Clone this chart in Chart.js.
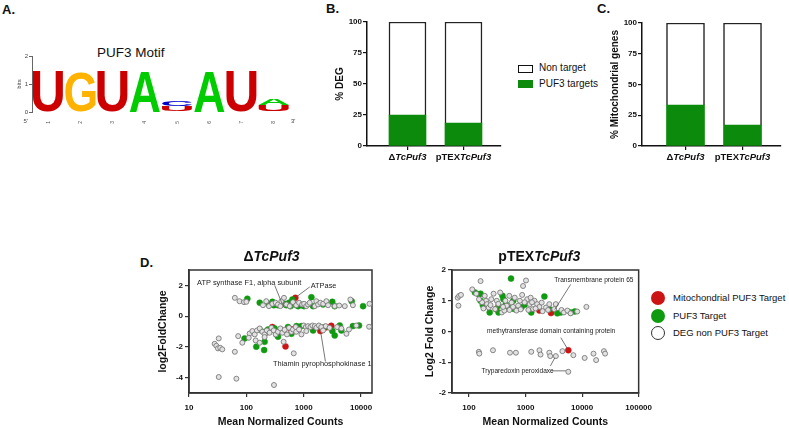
<!DOCTYPE html>
<html>
<head>
<meta charset="utf-8">
<script src="https://cdn.jsdelivr.net/npm/chart.js@4.4.0/dist/chart.umd.min.js"></script>
<style>
  body { margin: 0; width: 789px; height: 428px; background: #fff; position: relative; overflow: hidden;
         font-family: "Liberation Sans", Arial, sans-serif; color: #111; }
  canvas { position: absolute; }
  .panel { position: absolute; font-weight: bold; font-size: 13px; }
  .txt { position: absolute; white-space: nowrap; line-height: 1; }
  .box { position: absolute; box-sizing: border-box; }
  .dot { position: absolute; width: 14px; height: 14px; border-radius: 50%; box-sizing: border-box; }
</style>
</head>
<body>
<div class="panel" style="left:2px;top:2px">A.</div>
<div class="panel" style="left:326px;top:1px">B.</div>
<div class="panel" style="left:597px;top:1px">C.</div>
<div class="panel" style="left:140px;top:255px">D.</div>

<div class="txt" style="left:97px;top:46px;font-size:13.5px">PUF3 Motif</div>

<!-- legend for B / C -->
<div class="box" style="left:518px;top:65px;width:15px;height:8px;border:1px solid #111;background:#fff"></div>
<div class="txt" style="left:539px;top:63px;font-size:10px">Non target</div>
<div class="box" style="left:518px;top:80px;width:15px;height:8px;background:#0b8a0b"></div>
<div class="txt" style="left:539px;top:79px;font-size:10px">PUF3 targets</div>

<!-- legend for D -->
<div class="dot" style="left:651px;top:291px;background:#cc1414"></div>
<div class="txt" style="left:673px;top:293px;font-size:9.5px">Mitochondrial PUF3 Target</div>
<div class="dot" style="left:651px;top:309px;background:#0f9a0f"></div>
<div class="txt" style="left:673px;top:311px;font-size:9.5px">PUF3 Target</div>
<div class="dot" style="left:651px;top:326px;background:#fff;border:1.2px solid #333"></div>
<div class="txt" style="left:673px;top:328px;font-size:9.5px">DEG non PUF3 Target</div>

<canvas id="logo" width="300" height="90" style="left:0;top:40px"></canvas>
<canvas id="deg" width="180" height="160" style="left:325px;top:10px"></canvas>
<canvas id="mito" width="192" height="160" style="left:595px;top:10px"></canvas>
<canvas id="ko" width="240" height="183" style="left:150px;top:245px"></canvas>
<canvas id="oe" width="258" height="183" style="left:400px;top:245px"></canvas>

<script>
// ---- A: motif logo (bits per position) ----
var motifPositions = ['1', '2', '3', '4', '5', '6', '7', '8'];
var bitsU = [1.43, 0, 1.43, 0, 0.21, 0, 1.43, 0.24];
var bitsG = [0, 1.43, 0, 0, 0, 0, 0, 0];
var bitsC = [0, 0, 0, 0, 0.17, 0, 0, 0];
var bitsA = [0, 0, 0, 1.43, 0, 1.43, 0, 0.21];

// ---- B / C: stacked percentages ----
var strains = ['ΔTcPuf3', 'pTEXTcPuf3'];
var degTargets = [25, 18.5];
var degNonTargets = [75, 81.5];
var mitoTargets = [33.3, 17.1];
var mitoNonTargets = [66.7, 82.9];

// ---- D: MA plots, [mean normalized counts, log2 fold change] ----
var koOther = [
  [63,1.19],[76,0.97],[91,0.91],[100,0.93],[195,0.71],[222,0.97],[248,0.65],[284,0.8],[325,0.87],[356,0.76],
  [392,0.65],[408,0.97],[453,1.19],[499,0.76],[570,0.65],[650,0.91],[740,0.71],[830,0.87],[940,0.76],[1014,0.8],
  [1110,0.65],[1190,0.76],[1270,0.87],[1560,0.65],[1660,0.97],[1780,0.76],[1950,0.87],[2180,0.8],[2480,0.97],
  [2660,0.71],[3470,0.65],[4150,0.69],[5200,0.65],[6500,1.08],[7200,0.71],[14000,0.8],
  [114,-1.13],[127,-0.97],[140,-1.19],[153,-0.93],[171,-0.8],[190,-1.02],[208,-1.19],[228,-0.93],[254,-1.08],
  [273,-0.76],[300,-0.93],[325,-1.19],[356,-1.02],[392,-0.8],[424,-1.08],[465,-0.89],[510,-1.19],[555,-0.76],
  [610,-1.02],[650,-0.87],[725,-0.71],[740,-1.02],[830,-0.87],[912,-1.19],[1000,-0.61],[1090,-0.71],[1110,-0.97],
  [1190,-0.65],[1310,-0.71],[1420,-0.61],[1560,-0.65],[1660,-0.76],[1840,-0.61],[2020,-0.71],[2175,-0.93],
  [2420,-0.65],[2820,-0.76],[3820,-0.71],[4530,-0.8],[5550,-1.15],[6150,-0.87],[8250,-0.61],[13800,-0.69],
  [28,-1.8],[30,-1.93],[32,-2.1],[35,-2.06],[38,-2.16],[33,-1.45],[63,-2.32],[72,-1.3],[85,-1.73],[110,-1.41],
  [145,-1.58],[171,-1.73],[208,-1.36],[446,-1.67],[670,-2.42],[33,-3.96],[67,-4.07],[303,-4.48]
];
var koTarget = [
  [104,1.13],[171,0.87],[248,0.76],[284,0.93],[300,0.71],[356,0.71],[465,0.8],[499,0.71],[555,0.87],[585,0.65],
  [634,1.08],[697,0.76],[796,0.65],[912,0.71],[1014,0.65],[1361,1.23],[1456,0.65],[2175,0.76],[3150,0.93],
  [3470,0.65],[6850,0.97],[10840,0.65],
  [93,-1.45],[149,-1.99],[171,-0.89],[208,-1.02],[208,-1.67],[204,-2.21],[239,-0.87],[312,-0.8],[333,-1.19],
  [356,-1.34],[408,-1.02],[532,-0.71],[610,-1.15],[749,-0.65],[912,-0.65],[1456,-0.93],[2300,-0.71],[3159,-0.97],
  [3470,-1.26],[4248,-0.61],[4530,-0.93],[7213,-0.65],[9200,-0.61]
];
var koMito = [[413,0.76],[716,1.19],[224,-1.06],[481,-1.97],[594,-0.84],[284,-0.71],[1950,-0.97],[2480,-0.73],[3020,-0.63]];

var oeOther = [
  [63,1.1],[67,1.16],[72,1.19],[65,0.84],[114,1.37],[160,1.64],[134,1.23],[190,1.16],[200,1.0],[208,0.89],
  [223,0.78],[248,1.05],[272,1.23],[290,0.73],[310,1.0],[355,1.27],[380,0.62],[422,0.68],[465,0.84],[515,1.16],
  [566,0.94],[645,1.1],[690,0.68],[740,0.84],[792,1.0],[870,1.19],[903,1.48],[1018,1.66],[1070,1.05],[1180,0.89],
  [1230,1.1],[1350,0.73],[1440,1.0],[1600,0.89],[1760,0.8],[1930,0.94],[2300,0.78],[2630,0.89],[3210,0.73],
  [3430,0.89],[4310,0.7],[4770,0.62],[5500,0.68],[6260,0.59],[8200,0.65],[11900,0.8],
  [170,0.95],[240,0.86],[330,0.9],[400,0.8],[440,1.0],[520,0.7],[600,0.8],[820,0.72],[960,0.95],[1120,0.7],
  [1300,0.95],[1500,0.75],[2000,0.66],[2500,0.7],[150,1.05],[180,0.75],
  [149,-0.66],[152,-0.72],[265,-0.61],[530,-0.69],[675,-0.69],[1260,-0.66],[1760,-0.61],[1840,-0.75],[2630,-0.69],
  [2730,-0.8],[3430,-0.8],[4480,-0.64],[7000,-0.77],[11100,-0.86],[15900,-0.72],[17700,-0.93],[24300,-0.64],
  [25500,-0.72],[5700,-1.31]
];
var oeTarget = [
  [127,1.27],[149,1.21],[160,1.23],[160,1.0],[175,0.86],[232,0.62],[333,0.84],[333,0.62],[390,1.16],[406,1.05],
  [447,0.89],[497,0.78],[553,1.72],[606,1.0],[630,0.73],[845,0.78],[967,0.87],[1260,0.62],[2150,1.14],[2630,0.73],
  [3640,0.59],[4220,0.62],[6260,0.62],[7400,0.65]
];
var oeMito = [[300,0.73],[1760,0.68],[2820,0.6],[5700,-0.61]];

// gene labels: text, anchor (left edge, middle) and leader lines in data units
var koNotes = [
  { text: 'ATP synthase F1, alpha subunit', at: [13.8, 2.16], lines: [[312, 2.0, 419, 0.82]] },
  { text: 'ATPase', at: [1324, 1.95], lines: [[1274, 1.9, 745, 1.25]] },
  { text: 'Thiamin pyrophosphokinase 1', at: [292, -3.14], lines: [[2390, -2.95, 1990, -1.1]] }
];
var oeNotes = [
  { text: 'Transmembrane protein 65', at: [3210, 1.66], lines: [[6270, 1.53, 3300, 0.72]] },
  { text: 'methytransferase domain containing protein', at: [208, 0], lines: [[4200, -0.2, 5500, -0.56]] },
  { text: 'Tryparedoxin peroxidaxe', at: [166, -1.28], lines: [[2890, -1.28, 5150, -1.28], [2750, -1.12, 3300, -0.85]] }
];

var FAMILY = '"Liberation Sans", Arial, sans-serif';
Chart.defaults.font.family = FAMILY;
Chart.defaults.color = '#111';

var RED = '#cc1414', GREEN = '#0f9a0f', BARGREEN = '#0b8a0b';

// draws "plain + italic" bold text centred at cx
function drawRich(ctx, parts, cx, cy, size) {
  var widths = [], total = 0;
  parts.forEach(function(p) {
    ctx.font = (p[1] ? 'italic ' : '') + 'bold ' + size + 'px ' + FAMILY;
    var w = ctx.measureText(p[0]).width;
    widths.push(w);
    total += w;
  });
  var x = cx - total / 2;
  ctx.textAlign = 'left';
  ctx.textBaseline = 'middle';
  ctx.fillStyle = '#111';
  parts.forEach(function(p, i) {
    ctx.font = (p[1] ? 'italic ' : '') + 'bold ' + size + 'px ' + FAMILY;
    ctx.fillText(p[0], x, cy);
    x += widths[i];
  });
}

function richParts(name) {
  // split the strain name into the plain prefix and the italic gene name
  var k = name.indexOf('TcPuf3');
  return [[name.slice(0, k), false], ['TcPuf3', true]];
}

// ---------- A. logo ----------
var letterPlugin = {
  id: 'letters',
  afterDatasetsDraw: function(chart) {
    var ctx = chart.ctx;
    chart.data.datasets.forEach(function(ds, di) {
      chart.getDatasetMeta(di).data.forEach(function(bar) {
        var p = bar.getProps(['x', 'y', 'base', 'width'], true);
        var h = p.base - p.y;
        if (h < 0.5) return;
        ctx.save();
        ctx.font = 'bold 100px ' + FAMILY;
        var m = ctx.measureText(ds.label);
        var gw = m.actualBoundingBoxLeft + m.actualBoundingBoxRight;
        var gh = m.actualBoundingBoxAscent + m.actualBoundingBoxDescent;
        ctx.translate(p.x - p.width / 2, p.y);
        ctx.scale(p.width / gw, h / gh);
        ctx.fillStyle = ds.letterColor;
        ctx.textAlign = 'left';
        ctx.textBaseline = 'alphabetic';
        ctx.fillText(ds.label, m.actualBoundingBoxLeft, m.actualBoundingBoxAscent);
        ctx.restore();
      });
    });
    var a = chart.chartArea;
    ctx.save();
    ctx.font = '6px ' + FAMILY;
    ctx.fillStyle = '#444';
    ctx.textBaseline = 'middle';
    ctx.textAlign = 'right';
    ctx.fillText("5'", a.left - 4, a.bottom + 9);
    ctx.textAlign = 'left';
    ctx.fillText("3'", a.right + 1, a.bottom + 9);
    ctx.restore();
  }
};

function letterSet(letter, bits, color) {
  return { label: letter, data: bits, letterColor: color, backgroundColor: 'rgba(0,0,0,0)',
           barPercentage: 0.94, categoryPercentage: 1 };
}

new Chart(document.getElementById('logo'), {
  type: 'bar',
  data: {
    labels: motifPositions,
    datasets: [
      letterSet('U', bitsU, '#cc0000'),
      letterSet('G', bitsG, '#ffb300'),
      letterSet('C', bitsC, '#0000cc'),
      letterSet('A', bitsA, '#00cc00')
    ]
  },
  options: {
    responsive: false, animation: false,
    layout: { padding: { top: 16, right: 10, left: 0, bottom: 0 } },
    plugins: { legend: { display: false }, tooltip: { enabled: false } },
    scales: {
      x: {
        stacked: true,
        afterFit: function(s) { s.height = 18; },
        grid: { display: false }, border: { display: false },
        ticks: { font: { size: 5 }, color: '#555', minRotation: 90, maxRotation: 90, padding: 1 }
      },
      y: {
        stacked: true, min: 0, max: 2,
        afterFit: function(s) { s.width = 32; },
        ticks: { stepSize: 1, font: { size: 6 }, color: '#444', padding: 1 },
        grid: { drawOnChartArea: false, tickLength: 3, color: '#666' },
        border: { color: '#666', width: 1 },
        title: { display: true, text: 'bits', font: { size: 6 }, color: '#444', padding: { top: 16, bottom: 0 } }
      }
    }
  },
  plugins: [letterPlugin]
});

// ---------- B / C. stacked bars ----------
function barChart(id, pad, yW, xRange, targets, others, yTitle, titlePad, barW) {
  var labelPlugin = {
    id: 'strainLabels',
    afterDraw: function(chart) {
      var sx = chart.scales.x;
      strains.forEach(function(name, i) {
        drawRich(chart.ctx, richParts(name), sx.getPixelForValue(i + 1), chart.chartArea.bottom + 11, 9.5);
      });
    }
  };
  return new Chart(document.getElementById(id), {
    type: 'bar',
    data: {
      datasets: [
        { label: 'PUF3 targets', data: targets.map(function(v, i) { return { x: i + 1, y: v }; }),
          backgroundColor: BARGREEN, borderWidth: 0, barThickness: barW },
        { label: 'Non target', data: others.map(function(v, i) { return { x: i + 1, y: v }; }),
          backgroundColor: '#fff', borderColor: '#222', borderWidth: 1.5, barThickness: barW }
      ]
    },
    options: {
      responsive: false, animation: false,
      layout: { padding: pad },
      plugins: { legend: { display: false }, tooltip: { enabled: false } },
      scales: {
        x: {
          type: 'linear', stacked: true, offset: false, min: xRange[0], max: xRange[1],
          afterBuildTicks: function(s) { s.ticks = [{ value: 1 }, { value: 2 }]; },
          afterFit: function(s) { s.height = 24; },
          ticks: { callback: function() { return ''; } },
          grid: { drawOnChartArea: false, offset: false, tickLength: 4, color: '#111', lineWidth: 1.2 },
          border: { color: '#111', width: 1.5 }
        },
        y: {
          stacked: true, min: 0, max: 100,
          afterFit: function(s) { s.width = yW; },
          ticks: { stepSize: 25, font: { size: 8, weight: 'bold' }, color: '#111', padding: 1 },
          grid: { drawOnChartArea: false, tickLength: 4, color: '#111', lineWidth: 1.2 },
          border: { color: '#111', width: 1.5 },
          title: { display: true, text: yTitle, font: { size: 10, weight: 'bold' }, color: '#111',
                   padding: { top: titlePad, bottom: 0 } }
        }
      }
    },
    plugins: [labelPlugin]
  });
}

barChart('deg', { top: 12, right: 4, left: 0, bottom: 0 }, 42, [0.277, 2.67],
         degTargets, degNonTargets, '% DEG', 9, 37);
barChart('mito', { top: 13, right: 6, left: 0, bottom: 0 }, 47, [0.237, 2.675],
         mitoTargets, mitoNonTargets, '% Mitochondrial genes', 14, 38);

// ---------- D. MA plots ----------
function scatterChart(id, opt) {
  var extras = {
    id: 'extras',
    beforeDatasetsDraw: function(chart) {
      var a = chart.chartArea, ctx = chart.ctx;
      ctx.save();
      ctx.strokeStyle = '#333';
      ctx.lineWidth = 1.5;
      ctx.strokeRect(a.left, a.top, a.right - a.left, a.bottom - a.top);
      ctx.restore();
    },
    afterDatasetsDraw: function(chart) {
      var sx = chart.scales.x, sy = chart.scales.y, ctx = chart.ctx, a = chart.chartArea;
      ctx.save();
      ctx.strokeStyle = '#555';
      ctx.lineWidth = 0.8;
      ctx.fillStyle = '#222';
      ctx.font = opt.noteSize + 'px ' + FAMILY;
      ctx.textAlign = 'left';
      ctx.textBaseline = 'middle';
      opt.notes.forEach(function(n) {
        ctx.fillText(n.text, sx.getPixelForValue(n.at[0]), sy.getPixelForValue(n.at[1]));
        n.lines.forEach(function(l) {
          ctx.beginPath();
          ctx.moveTo(sx.getPixelForValue(l[0]), sy.getPixelForValue(l[1]));
          ctx.lineTo(sx.getPixelForValue(l[2]), sy.getPixelForValue(l[3]));
          ctx.stroke();
        });
      });
      ctx.restore();
      drawRich(ctx, richParts(opt.title), (a.left + a.right) / 2 + opt.titleShift, a.top - 13, 14);
    }
  };
  function pts(arr) { return arr.map(function(p) { return { x: p[0], y: p[1] }; }); }
  return new Chart(document.getElementById(id), {
    type: 'scatter',
    data: {
      datasets: [
        { label: 'DEG non PUF3 Target', data: pts(opt.other), pointRadius: 2.5,
          pointBackgroundColor: '#e2e2e2', pointBorderColor: '#7a7a7a', pointBorderWidth: 0.9 },
        { label: 'PUF3 Target', data: pts(opt.target), pointRadius: 3,
          pointBackgroundColor: GREEN, pointBorderColor: GREEN, pointBorderWidth: 0.5 },
        { label: 'Mitochondrial PUF3 Target', data: pts(opt.mito), pointRadius: 3,
          pointBackgroundColor: RED, pointBorderColor: RED, pointBorderWidth: 0.5 }
      ]
    },
    options: {
      responsive: false, animation: false,
      layout: { padding: opt.pad },
      plugins: { legend: { display: false }, tooltip: { enabled: false } },
      scales: {
        x: {
          type: 'logarithmic', min: opt.xRange[0], max: opt.xRange[1],
          afterBuildTicks: function(s) { s.ticks = opt.xTicks.map(function(v) { return { value: v }; }); },
          afterFit: function(s) { s.height = 35; },
          ticks: { callback: function(v) { return String(v); }, font: { size: 8, weight: 'bold' },
                   color: '#111', padding: 6, maxRotation: 0, autoSkip: false },
          grid: { drawOnChartArea: false, tickLength: 4, color: '#333', lineWidth: 1.2 },
          border: { color: '#333', width: 1.5 },
          title: { display: true, text: 'Mean Normalized Counts', font: { size: 10.5, weight: 'bold' },
                   color: '#111', padding: 0 }
        },
        y: {
          min: opt.yRange[0], max: opt.yRange[1],
          afterBuildTicks: function(s) { s.ticks = opt.yTicks.map(function(v) { return { value: v }; }); },
          afterFit: function(s) { s.width = opt.yW; },
          ticks: { font: { size: 8, weight: 'bold' }, color: '#111', padding: 2 },
          grid: { drawOnChartArea: false, tickLength: 4, color: '#333', lineWidth: 1.2 },
          border: { color: '#333', width: 1.5 },
          title: { display: true, text: opt.yTitle, font: { size: 10.5, weight: 'bold' }, color: '#111',
                   padding: { top: 2, bottom: 0 } }
        }
      }
    },
    plugins: [extras]
  });
}

scatterChart('ko', {
  pad: { top: 25, right: 18, left: 5, bottom: 0 }, yW: 34,
  xRange: [10, 15500], xTicks: [10, 100, 1000, 10000],
  yRange: [-5, 3], yTicks: [-4, -2, 0, 2],
  yTitle: 'log2FoldChange', title: strains[0], titleShift: -9,
  other: koOther, target: koTarget, mito: koMito, notes: koNotes, noteSize: 7.4
});
scatterChart('oe', {
  pad: { top: 25, right: 16, left: 22, bottom: 0 }, yW: 30,
  xRange: [50, 100000], xTicks: [100, 1000, 10000, 100000],
  yRange: [-2, 2], yTicks: [-2, -1, 0, 1, 2],
  yTitle: 'Log2 Fold Change', title: strains[1], titleShift: -6,
  other: oeOther, target: oeTarget, mito: oeMito, notes: oeNotes, noteSize: 6.6
});
</script>
</body>
</html>
